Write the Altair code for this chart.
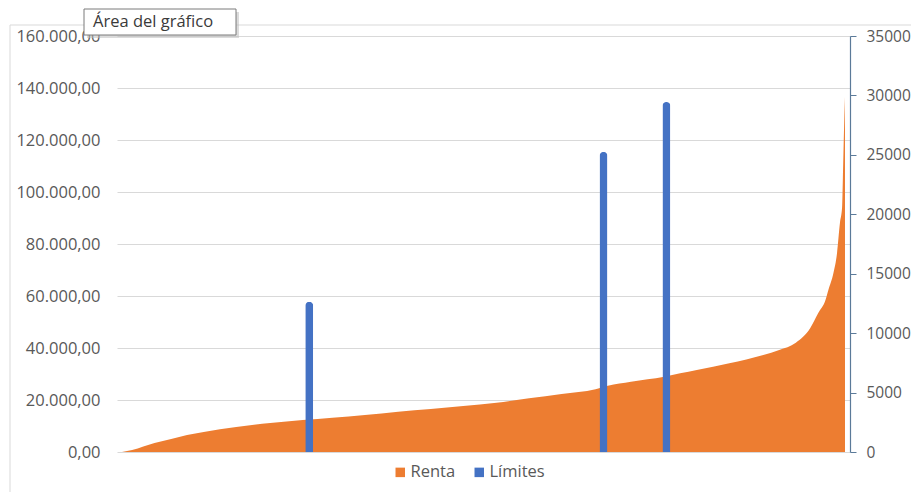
import altair as alt
import pandas as pd

# --- data ---
percentil = [0, 1.4, 4.5, 6.8, 9.0, 11.3, 15.8, 20.5, 25.0, 29.1, 33.6, 38.2, 42.7, 47.2,
             51.8, 56.3, 60.8, 65.5, 67.2, 70.4, 75.0, 77.2, 79.5, 84.0, 88.7, 90.9, 93.2,
             95.2, 96.3, 97.3, 97.7, 98.4, 98.9, 99.3, 99.6, 99.7, 99.9, 100]
renta = [0, 770, 3460, 5000, 6540, 7690, 9620, 11150, 12310, 13190, 14230, 15500, 16540, 17690,
         18960, 20650, 22310, 24120, 25500, 27040, 28960, 30270, 31540, 34120, 37310, 39230, 42040,
         47690, 53460, 58460, 62310, 68850, 76540, 88080, 94230, 104600, 127700, 136540]

limite_percentil = [25.9, 66.6, 75.3]
limites = [12650, 25250, 29450]

series = ["Renta", "Límites"]
colores = ["#ED7D31", "#4472C4"]
left_ticks = [0, 20000, 40000, 60000, 80000, 100000, 120000, 140000, 160000]
right_ticks = [0, 5000, 10000, 15000, 20000, 25000, 30000, 35000]
tooltip_text = ["Área del gráfico"]

FONT = "Open Sans"
GREY = "#595959"

df_renta = pd.DataFrame({"percentil": percentil, "valor": renta, "serie": "Renta"})
df_lim = pd.DataFrame({"percentil": limite_percentil, "valor": limites, "serie": "Límites"})
df_tip = pd.DataFrame({"t": tooltip_text})

xscale = alt.Scale(domain=[0, 100], nice=False, zero=False)
color = alt.Color(
    "serie:N",
    scale=alt.Scale(domain=series, range=colores),
    legend=alt.Legend(
        orient="none", legendX=275, legendY=428, direction="horizontal", title=None,
        symbolType="square", symbolSize=90, symbolStrokeWidth=0,
        labelFontSize=16.5, labelFont=FONT, labelColor=GREY,
        columnPadding=15, labelOffset=2, padding=0,
    ),
)

left_label = ("replace(replace(replace(format(datum.value, ',.2f'), ',', '_'), '.', ','), '_', '.')")

border = alt.Chart(df_tip).mark_rect(fillOpacity=0, stroke="#D9D9D9", strokeWidth=1).encode(
    x=alt.value(-107), x2=alt.value(2000), y=alt.value(-11), y2=alt.value(2000)
)

area = alt.Chart(df_renta).mark_area(interpolate="monotone", opacity=1).encode(
    x=alt.X("percentil:Q", scale=xscale, axis=None),
    y=alt.Y(
        "valor:Q",
        scale=alt.Scale(domain=[0, 160000], nice=False),
        axis=alt.Axis(
            orient="left", values=left_ticks, title=None, domain=False, ticks=False, tickSize=0,
            labelPadding=17, labelExpr=left_label, labelFont=FONT, labelFontSize=16.5,
            labelColor=GREY, grid=True, gridColor="#D9D9D9", gridWidth=1,
        ),
    ),
    color=color,
)

bars = alt.Chart(df_lim).mark_bar(size=8, cornerRadiusTopLeft=4, cornerRadiusTopRight=4).encode(
    x=alt.X("percentil:Q", scale=xscale, axis=None),
    y=alt.Y(
        "valor:Q",
        scale=alt.Scale(domain=[0, 35000], nice=False),
        axis=alt.Axis(
            orient="right", values=right_ticks, title=None, format="d", grid=False,
            domain=True, domainColor="#5B7A99", domainWidth=1.2,
            ticks=True, tickColor="#5B7A99", tickSize=6, labelPadding=10,
            labelFont=FONT, labelFontSize=15.5, labelColor=GREY,
        ),
    ),
    color=color,
)

shadow = alt.Chart(df_tip).mark_rect(fill="#BDBDBD", opacity=0.55).encode(
    x=alt.value(-30), x2=alt.value(122), y=alt.value(-24), y2=alt.value(2)
)
box = alt.Chart(df_tip).mark_rect(fill="white", stroke="#7A7A7A", strokeWidth=1).encode(
    x=alt.value(-33), x2=alt.value(119), y=alt.value(-27), y2=alt.value(-1)
)
tip = alt.Chart(df_tip).mark_text(
    align="left", baseline="alphabetic", font=FONT, fontSize=16.5, color="#3A3A3A"
).encode(x=alt.value(-24), y=alt.value(-9), text="t:N")

chart = (
    alt.layer(border, area, bars, shadow, box, tip)
    .resolve_scale(y="independent")
    .properties(
        width=733, height=416,
        padding={"left": 109, "top": 28, "right": 61, "bottom": 40},
        autosize=alt.AutoSizeParams(type="none"),
        background="white",
    )
    .configure_view(strokeWidth=0)
)

chart.save("out.html", embed_options={"renderer": "svg", "actions": False})
